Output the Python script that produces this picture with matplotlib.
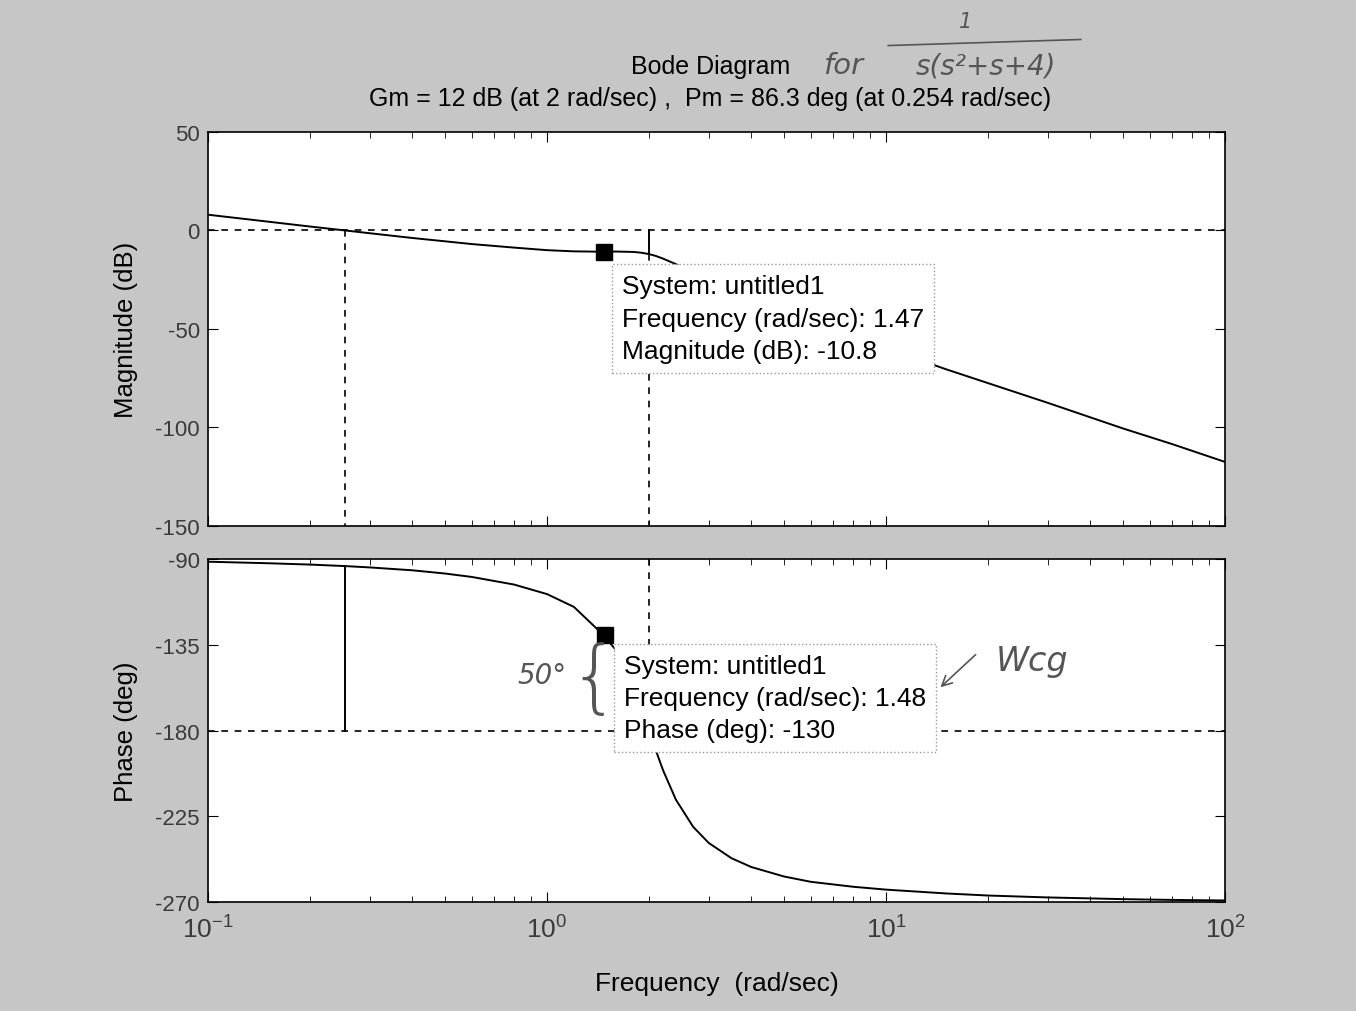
import matplotlib
matplotlib.use("Agg")
import matplotlib.pyplot as plt

plt.rcParams['font.family'] = ['Liberation Sans', 'DejaVu Sans']
plt.rcParams['mathtext.default'] = 'regular'
plt.rcParams['axes.unicode_minus'] = False

freq = [0.1, 0.15, 0.2, 0.254, 0.3, 0.4, 0.5, 0.6, 0.8, 1.0, 1.2, 1.47, 1.6,
        1.8, 1.9, 2.0, 2.1, 2.2, 2.4, 2.7, 3.0, 3.5, 4.0, 5.0, 6.0, 8.0, 10.0,
        15.0, 20.0, 30.0, 50.0, 70.0, 100.0]
mag_db = [8.0, 4.5, 2.0, 0.0, -1.4, -3.8, -5.5, -6.9, -8.7, -10.0, -10.6, -10.8, -10.7,
          -10.9, -11.3, -12.0, -13.0, -14.3, -17.1, -21.2, -24.8, -29.9, -34.1, -40.7, -45.8, -53.7, -59.7,
          -70.4, -77.5, -87.5, -100.5, -108.5, -117.5]
phase_deg = [-91.4, -92.2, -92.9, -93.7, -94.4, -95.9, -97.6, -99.4, -103.4, -108.4, -115.1, -130.0, -138.0,
             -157.1, -168.4, -180.0, -191.0, -200.9, -216.3, -230.6, -239.0, -247.0, -251.6, -256.6, -259.4, -262.0, -263.5,
             -265.5, -266.6, -267.6, -268.5, -268.9, -269.2]

gm_freq = 2.0      # gain crossover  (Gm = 12 dB)
gm_db = -12.0
pm_freq = 0.254    # phase crossover (Pm = 86.3 deg)
pm_phase = -93.7

tip_mag = (1.47, -10.8)
tip_phase = (1.48, -130)

bg = '#c6c6c6'
fig = plt.figure(figsize=(13.56, 10.12), dpi=100, facecolor=bg)
ax1 = fig.add_axes([0.1534, 0.4793, 0.75, 0.3893])
ax2 = fig.add_axes([0.1534, 0.1077, 0.75, 0.3389])

for ax in (ax1, ax2):
    ax.set_xscale('log')
    ax.set_xlim(0.1, 100)
    ax.tick_params(which='both', direction='in', top=True, right=True,
                   labelsize=16, labelcolor='#3a3a3a', pad=6)
    ax.tick_params(which='major', length=7)
    ax.tick_params(which='minor', length=4)
    for s in ax.spines.values():
        s.set_linewidth(1.2)

tip_box = dict(boxstyle='square,pad=0.38', fc='white', ec='#999999', ls=':', lw=1)

# magnitude
ax1.plot(freq, mag_db, color='black', lw=1.4)
ax1.axhline(0, color='black', ls='--', lw=1.2, dashes=(4, 4))
ax1.plot([pm_freq, pm_freq], [0, -150], color='black', ls='--', lw=1.2, dashes=(4, 4))
ax1.plot([gm_freq, gm_freq], [0, gm_db], color='black', lw=1.4)
ax1.plot([gm_freq, gm_freq], [gm_db, -150], color='black', ls='--', lw=1.2, dashes=(4, 4))
ax1.set_ylim(-150, 50)
ax1.set_yticks([-150, -100, -50, 0, 50])
ax1.set_xticks([0.1, 1, 10, 100])
ax1.set_xticklabels([])
ax1.set_ylabel('Magnitude (dB)', fontsize=18.5, labelpad=12)
ax1.plot(*tip_mag, marker='s', ms=12, color='black', zorder=6)
ax1.text(1.664, -44.7,
         'System: untitled1\nFrequency (rad/sec): 1.47\nMagnitude (dB): -10.8',
         fontsize=19, va='center', ha='left', linespacing=1.43, zorder=7, bbox=tip_box)

# phase
ax2.plot(freq, phase_deg, color='black', lw=1.4)
ax2.axhline(-180, color='black', ls='--', lw=1.2, dashes=(4, 4))
ax2.plot([pm_freq, pm_freq], [-180, pm_phase], color='black', lw=1.4)
ax2.plot([gm_freq, gm_freq], [-90, -180], color='black', ls='--', lw=1.2, dashes=(4, 4))
ax2.set_ylim(-270, -90)
ax2.set_yticks([-270, -225, -180, -135, -90])
ax2.set_xticks([0.1, 1, 10, 100])
ax2.set_xticklabels(['$10^{-1}$', '$10^{0}$', '$10^{1}$', '$10^{2}$'], fontsize=19)
ax2.tick_params(axis='x', pad=10)
ax2.set_ylabel('Phase (deg)', fontsize=18.5, labelpad=12)
ax2.set_xlabel('Frequency  (rad/sec)', fontsize=19, labelpad=20)
ax2.plot(*tip_phase, marker='s', ms=12, color='black', zorder=6)
ax2.text(1.687, -162.9,
         'System: untitled1\nFrequency (rad/sec): 1.48\nPhase (deg): -130',
         fontsize=19, va='center', ha='left', linespacing=1.43, zorder=7, bbox=tip_box)

# titles
fig.text(0.524, 0.934, 'Bode Diagram', fontsize=18, ha='center', va='center')
fig.text(0.524, 0.902, 'Gm = 12 dB (at 2 rad/sec) ,  Pm = 86.3 deg (at 0.254 rad/sec)',
         fontsize=18, ha='center', va='center')

# handwritten notes
hand = dict(color='#555555', style='italic', family='DejaVu Sans')
fig.text(0.622, 0.935, 'for', fontsize=21, ha='center', va='center', **hand)
fig.text(0.712, 0.978, '1', fontsize=15, ha='center', va='center', **hand)
fig.add_artist(plt.Line2D([0.655, 0.797], [0.954, 0.960], color='#555555', lw=1.2))
fig.text(0.727, 0.934, 's(s²+s+4)', fontsize=20, ha='center', va='center', **hand)
fig.text(0.400, 0.332, '50°', fontsize=20, ha='center', va='center', **hand)
fig.text(0.438, 0.327, '{', fontsize=58, ha='center', va='center',
         color='#555555', family='DejaVu Sans', fontweight='light')
fig.text(0.761, 0.346, 'Wcg', fontsize=24, ha='center', va='center', **hand)
fig.add_artist(matplotlib.patches.FancyArrowPatch((0.721, 0.354), (0.692, 0.318),
               transform=fig.transFigure, arrowstyle='->', mutation_scale=18,
               color='#555555', lw=1.2))

fig.savefig('out.png', dpi=100, facecolor=bg)
